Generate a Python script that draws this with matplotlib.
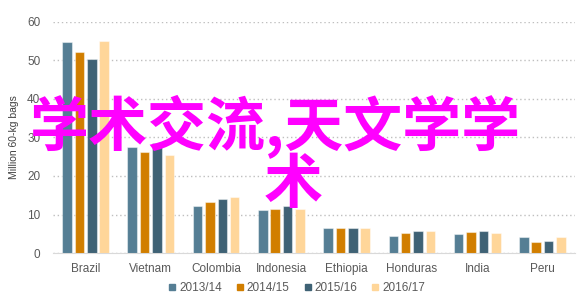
import matplotlib.pyplot as plt
import numpy as np

plt.rcParams['font.family'] = ['Liberation Sans', 'DejaVu Sans']

countries = ['Brazil', 'Vietnam', 'Colombia', 'Indonesia', 'Ethiopia', 'Honduras', 'India', 'Peru']
seasons = ['2013/14', '2014/15', '2015/16', '2016/17']
v_2013 = [54.7, 27.6, 12.2, 11.1, 6.4, 4.4, 4.9, 4.2]
v_2014 = [52.2, 26.3, 13.2, 11.4, 6.4, 5.2, 5.5, 2.9]
v_2015 = [50.4, 28.6, 14.0, 12.2, 6.4, 5.8, 5.8, 3.1]
v_2016 = [55.0, 25.4, 14.5, 11.4, 6.4, 5.8, 5.2, 4.2]
colors = ['#557E94', '#D17E00', '#3F6275', '#FFD699']

fig = plt.figure(figsize=(5.88, 3.01), dpi=100, facecolor='white')
ax = fig.add_axes([0.090, 0.159, 0.888, 0.769])

x = np.arange(len(countries))
slot = 0.19
for i, (vals, lab, col) in enumerate(zip([v_2013, v_2014, v_2015, v_2016], seasons, colors)):
    ax.bar(x + (i - 1.5) * slot, vals, width=0.146, color=col, label=lab,
           edgecolor=(1, 1, 1, 0.45), linewidth=0.8, zorder=3)

ax.set_xlim(-0.5, len(countries) - 0.5)
ax.set_ylim(0, 60)
ax.set_yticks(range(0, 61, 10))
ax.set_xticks(x)
ax.set_xticklabels(countries)
ax.yaxis.grid(True, linestyle=(0, (1, 2)), color='#BFBFBF', linewidth=1.0, zorder=0)
for s in ['top', 'right', 'left']:
    ax.spines[s].set_visible(False)
ax.spines['bottom'].set_color('#D9D9D9')
ax.tick_params(axis='both', length=0, labelsize=8.5, labelcolor='#595959')
ax.tick_params(axis='y', pad=9)
ax.tick_params(axis='x', pad=7)
ax.set_ylabel('Million 60-kg bags', fontsize=7.5, color='#404040', labelpad=6)

# legend with square markers along the bottom
proxy = [plt.Line2D([], [], marker='s', linestyle='', color=c, markersize=5) for c in colors]
fig.legend(proxy, seasons, loc='center', bbox_to_anchor=(0.505, 0.043), ncol=4,
           frameon=False, fontsize=8.5, handlelength=0.6, handletextpad=0.3,
           columnspacing=1.2, labelcolor='#595959')

# overlay watermark text
cjk = ['Noto Sans CJK SC', 'DejaVu Sans']
fig.text(275 / 588, 1 - 127 / 301, '学术交流,天文学学', family=cjk, fontsize=42.5,
         fontweight='bold', color='#FF00FF', ha='center', va='center', zorder=10)
fig.text(293 / 588, 1 - 186 / 301, '术', family=cjk, fontsize=42.5,
         fontweight='bold', color='#FF00FF', ha='center', va='center', zorder=10)

fig.savefig('out.png', dpi=100, facecolor='white')
